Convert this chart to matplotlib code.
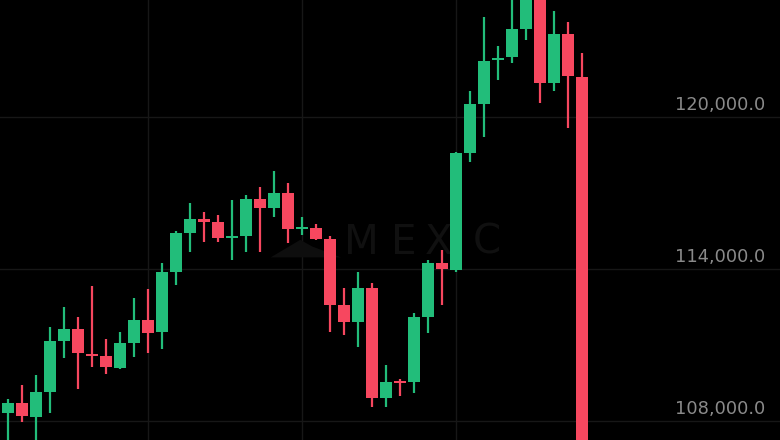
import matplotlib
matplotlib.use('Agg')
import matplotlib.pyplot as plt
import matplotlib.transforms as mtransforms
from matplotlib.patches import Polygon
import numpy as np

# candle OHLC (BTC/USDT style, MEXC)
opens = [108317, 108711, 108159, 109146, 111159, 111632, 110646, 110567, 110093, 111080,
         111988, 111514, 113882, 115421, 115974, 115856, 115224, 115303, 116763, 116408,
         117000, 115579, 115619, 115185, 112580, 111909, 113251, 108909, 109580, 109540,
         112106, 114237, 113961, 118579, 120513, 122250, 122368, 123473, 125150, 121342,
         123276, 121579]
highs = [108869, 109422, 109817, 111711, 112501, 112106, 113330, 111238, 111514, 112856,
         113211, 114237, 115500, 116606, 116250, 116132, 116724, 116921, 117237, 117869,
         117395, 116053, 115777, 115303, 113251, 113882, 113448, 110212, 109659, 112264,
         114356, 114751, 118619, 121026, 123947, 122802, 124815, 125600, 125700, 124184,
         123750, 122526]
lows = [107054, 107962, 107054, 108317, 110488, 109264, 110133, 109856, 110054, 110527,
        110685, 110843, 113369, 114672, 115066, 115066, 114356, 114672, 114672, 116053,
        115027, 115343, 115145, 111514, 111396, 110922, 108554, 108554, 108988, 109106,
        111474, 112580, 113882, 118224, 119211, 121460, 122131, 123039, 120553, 121026,
        119566, 104800]
closes = [108711, 108198, 109146, 111159, 111632, 110685, 110567, 110133, 111080, 111988,
          111474, 113882, 115421, 115974, 115856, 115224, 115303, 116763, 116408, 117000,
          115579, 115658, 115185, 112580, 111909, 113251, 108909, 109540, 109501, 112106,
          114237, 114001, 118579, 120513, 122210, 122329, 123473, 125200, 121342, 123276,
          121618, 105000]

price_levels = [120000, 114000, 108000]
price_labels = ['120,000.0', '114,000.0', '108,000.0']
vgrid_idx = [10, 21, 32]

green = '#22bd7a'
red = '#f7475f'
grid_c = '#171717'

fig = plt.figure(figsize=(7.8, 4.4), dpi=100, facecolor='black')
ax = fig.add_axes([0, 0, 1, 1])
ax.set_facecolor('black')
for s in ax.spines.values():
    s.set_visible(False)
ax.set_xticks([])
ax.set_yticks([])

ax.set_xlim(-8 / 14, (780 - 8) / 14)
ax.set_ylim(107250, 124618)

# grid
for lv in price_levels:
    ax.axhline(lv, color=grid_c, lw=1.0, zorder=0)
for vx in vgrid_idx:
    ax.axvline(vx, color=grid_c, lw=1.0, zorder=0)

# watermark
wm = '#101010'
for ch, xf in zip('MEXC', [0.463, 0.517, 0.562, 0.624]):
    ax.text(xf, 0.448, ch, transform=ax.transAxes, color=wm, fontsize=29,
            family='DejaVu Sans', ha='center', va='center', zorder=1)
ax.add_patch(Polygon([[0.347, 0.415], [0.385, 0.455], [0.4, 0.44], [0.437, 0.415]],
                     closed=True, transform=ax.transAxes, color='#0e0e0e', lw=0, zorder=1))

# candles
x = np.arange(len(opens))
o = np.array(opens)
c = np.array(closes)
cols = [green if cc >= oo else red for oo, cc in zip(o, c)]
bottoms = np.minimum(o, c)
heights = np.maximum(np.abs(c - o), 60)
ax.vlines(x, lows, highs, colors=cols, lw=1.6, zorder=2)
ax.bar(x, heights, bottom=bottoms, width=0.83, color=cols, zorder=3, linewidth=0)

# price labels on the right
trans = mtransforms.blended_transform_factory(ax.transAxes, ax.transData)
for lv, lb in zip(price_levels, price_labels):
    ax.annotate(lb, xy=(0.981, lv), xycoords=trans, xytext=(0, 5),
                textcoords='offset points', ha='right', va='baseline',
                color='#8a8a8a', fontsize=12.8, family='DejaVu Sans')

fig.savefig('out.png', dpi=100, facecolor='black')
